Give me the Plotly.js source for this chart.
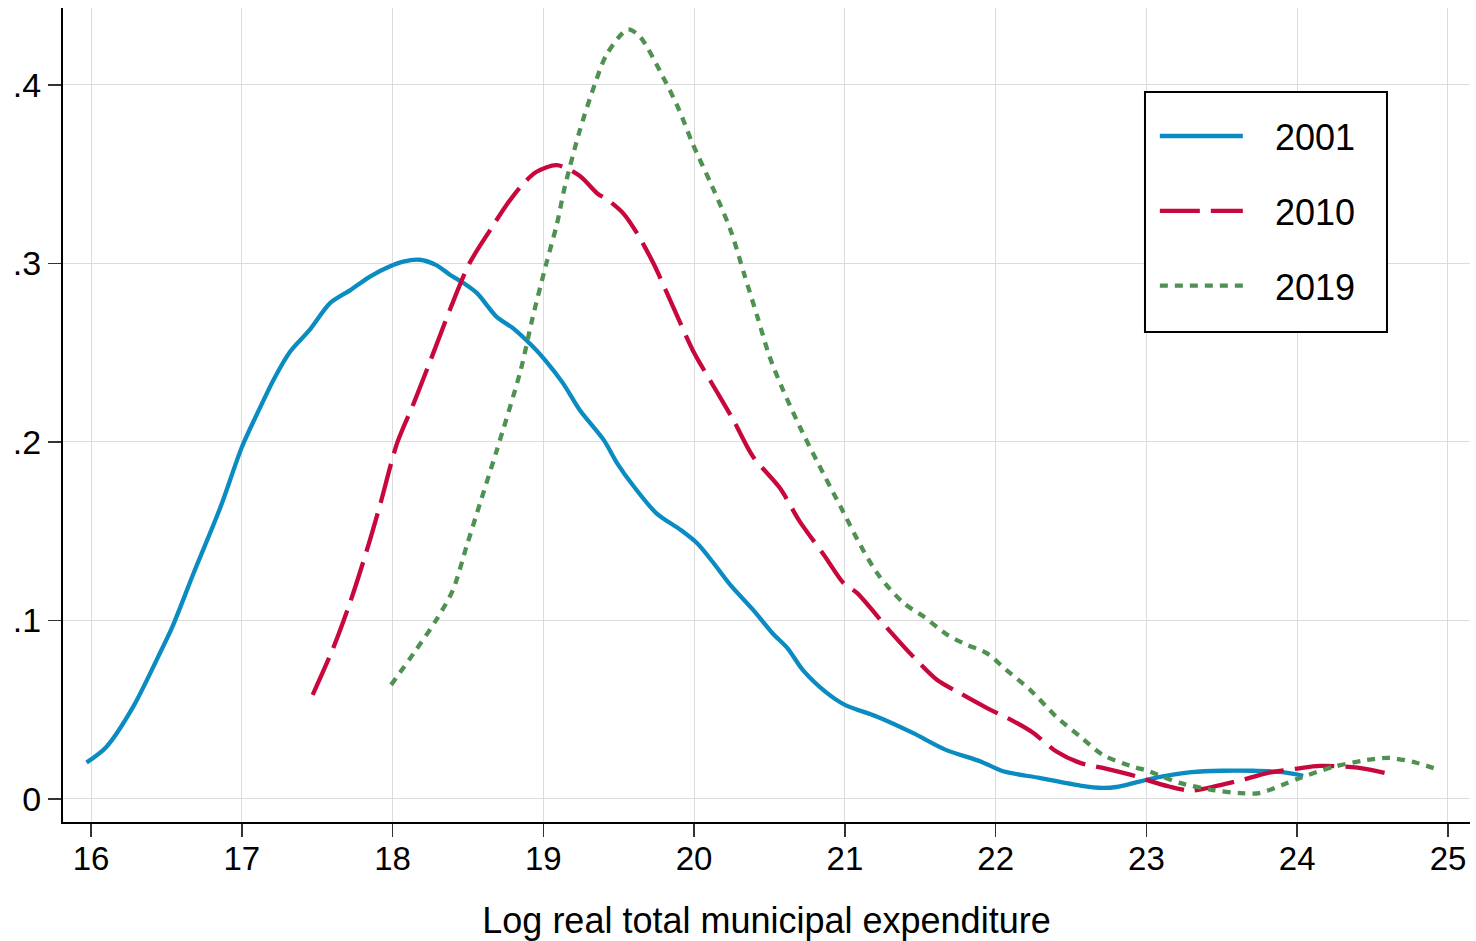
<!DOCTYPE html>
<html>
<head>
<meta charset="utf-8">
<script src="https://cdn.plot.ly/plotly-3.0.1.min.js"></script>
<style>html,body{margin:0;padding:0;background:#fff;}#chart{width:1476px;height:941px;}</style>
</head>
<body>
<div id="chart"></div>
<script>
// ---- data ----
const years = ["2001", "2010", "2019"];

const x2001 = [15.97, 16.10, 16.28, 16.47, 16.54, 16.68, 16.86, 17.00, 17.12, 17.21, 17.32, 17.45, 17.585, 17.72, 17.85, 17.98, 18.07, 18.18, 18.29, 18.38, 18.47, 18.56, 18.69, 18.80, 18.93, 19.02, 19.13, 19.24, 19.40, 19.49, 19.60, 19.75, 19.91, 20.02, 20.13, 20.24, 20.39, 20.52, 20.62, 20.72, 20.88, 21.00, 21.21, 21.45, 21.67, 21.90, 22.05, 22.29, 22.56, 22.71, 22.80, 22.96, 23.10, 23.30, 23.50, 23.70, 23.90, 24.04];
const y2001 = [0.0204, 0.029, 0.0517, 0.084, 0.0965, 0.1264, 0.1638, 0.197, 0.219, 0.2347, 0.2505, 0.2627, 0.2777, 0.285, 0.2926, 0.2982, 0.301, 0.302, 0.299, 0.2936, 0.289, 0.2833, 0.270, 0.2636, 0.2534, 0.245, 0.2329, 0.218, 0.2011, 0.188, 0.175, 0.160, 0.1507, 0.1432, 0.132, 0.1199, 0.106, 0.0928, 0.0844, 0.0723, 0.0594, 0.0527, 0.0462, 0.037, 0.0275, 0.021, 0.0155, 0.0118, 0.0075, 0.0062, 0.0067, 0.0099, 0.0125, 0.015, 0.0158, 0.0158, 0.015, 0.013];

const x2010 = [17.47, 17.61, 17.72, 17.83, 17.92, 18.03, 18.14, 18.27, 18.38, 18.51, 18.65, 18.75, 18.85, 18.95, 19.09, 19.24, 19.36, 19.42, 19.53, 19.62, 19.73, 19.86, 19.99, 20.13, 20.26, 20.39, 20.57, 20.70, 20.86, 20.99, 21.08, 21.30, 21.45, 21.61, 21.76, 21.94, 22.12, 22.25, 22.40, 22.56, 22.71, 22.93, 23.00, 23.15, 23.30, 23.49, 23.65, 23.80, 24.00, 24.15, 24.40, 24.61];
const y2010 = [0.0583, 0.0853, 0.1105, 0.1395, 0.1656, 0.1993, 0.2216, 0.2497, 0.274, 0.300, 0.319, 0.332, 0.343, 0.351, 0.355, 0.349, 0.339, 0.336, 0.328, 0.317, 0.300, 0.2758, 0.2515, 0.231, 0.2123, 0.1918, 0.174, 0.1555, 0.1368, 0.121, 0.1154, 0.0939, 0.080, 0.0668, 0.0594, 0.051, 0.0435, 0.037, 0.0267, 0.0202, 0.0174, 0.0127, 0.0107, 0.007, 0.0047, 0.0078, 0.011, 0.0145, 0.017, 0.0185, 0.0175, 0.014];

const x2019 = [17.99, 18.14, 18.29, 18.40, 18.49, 18.58, 18.69, 18.85, 18.93, 19.02, 19.09, 19.14, 19.24, 19.34, 19.42, 19.56, 19.64, 19.79, 19.90, 19.99, 20.12, 20.24, 20.33, 20.42, 20.50, 20.59, 20.70, 20.81, 20.97, 21.12, 21.23, 21.39, 21.52, 21.68, 21.81, 21.94, 22.07, 22.23, 22.40, 22.56, 22.71, 22.91, 23.00, 23.22, 23.44, 23.62, 23.75, 23.90, 24.02, 24.24, 24.46, 24.61, 24.79, 24.95];
const y2019 = [0.0639, 0.0816, 0.1003, 0.117, 0.1413, 0.1656, 0.195, 0.2403, 0.270, 0.300, 0.322, 0.342, 0.374, 0.400, 0.417, 0.431, 0.427, 0.405, 0.386, 0.367, 0.343, 0.319, 0.2945, 0.270, 0.2478, 0.229, 0.2086, 0.190, 0.1639, 0.1395, 0.1246, 0.1097, 0.1023, 0.0919, 0.0863, 0.0817, 0.0723, 0.061, 0.0462, 0.035, 0.0247, 0.0181, 0.016, 0.009, 0.005, 0.0033, 0.0033, 0.0078, 0.0118, 0.018, 0.0218, 0.023, 0.0203, 0.016];

const xTickVals = [16, 17, 18, 19, 20, 21, 22, 23, 24, 25];
const yTickVals = [0, 0.1, 0.2, 0.3, 0.4];
const yTickText = ["0", ".1", ".2", ".3", ".4"];
const xTitle = "Log real total municipal expenditure";

// ---- styles ----
const colors = ["#0a8bc1", "#c8073c", "#4f9150"];
const dashes = ["solid", "40px,11px", "8px,7px"];
const xs = [x2001, x2010, x2019];
const ys = [y2001, y2010, y2019];
const FONT = "Arial, 'Liberation Sans', sans-serif";
const PADL = "\u00a0\u00a0\u2009";

const traces = years.map((name, i) => ({
  type: "scatter",
  mode: "lines",
  name: PADL + name,
  x: xs[i],
  y: ys[i],
  legendgroup: name,
  line: {color: colors[i], width: 4.3, dash: dashes[i], shape: "spline", smoothing: 0.8}
}));

const layout = {
  width: 1476,
  height: 941,
  margin: {l: 63, r: 6, t: 8, b: 119},
  paper_bgcolor: "#ffffff",
  plot_bgcolor: "#ffffff",
  font: {family: FONT, color: "#000000", size: 34},
  showlegend: true,
  // legend frame (white box with black border)
  shapes: [{
    type: "rect", xref: "paper", yref: "paper", layer: "above",
    x0: 0.7690, x1: 0.9410, y0: 0.6020, y1: 0.8968,
    line: {color: "#000000", width: 2}, fillcolor: "#ffffff"
  }],
  legend: {
    x: 0.776, y: 0.8795, xanchor: "left", yanchor: "top",
    borderwidth: 0, bgcolor: "rgba(255,255,255,0)",
    font: {family: FONT, size: 36, color: "#000000"},
    itemwidth: 83,
    tracegroupgap: 25,
    traceorder: "grouped"
  },
  xaxis: {
    range: [15.814, 25.146],
    tickvals: xTickVals,
    ticks: "outside", ticklen: 13, tickwidth: 1.5, tickcolor: "#333333",
    ticklabelstandoff: -7,
    showline: true, linecolor: "#000000", linewidth: 2,
    showgrid: true, gridcolor: "#dcdcdc", gridwidth: 1,
    zeroline: false,
    tickfont: {family: FONT, size: 33, color: "#000000"},
    title: {text: xTitle, font: {family: FONT, size: 36, color: "#000000"}, standoff: 32}
  },
  yaxis: {
    range: [-0.0129, 0.443],
    tickvals: yTickVals,
    ticktext: yTickText,
    ticks: "outside", ticklen: 13, tickwidth: 1.5, tickcolor: "#333333",
    showline: true, linecolor: "#000000", linewidth: 2,
    showgrid: true, gridcolor: "#dcdcdc", gridwidth: 1,
    zeroline: false,
    tickfont: {family: FONT, size: 34, color: "#000000"}
  }
};

Plotly.newPlot("chart", traces, layout, {displayModeBar: false, staticPlot: true});
</script>
</body>
</html>
